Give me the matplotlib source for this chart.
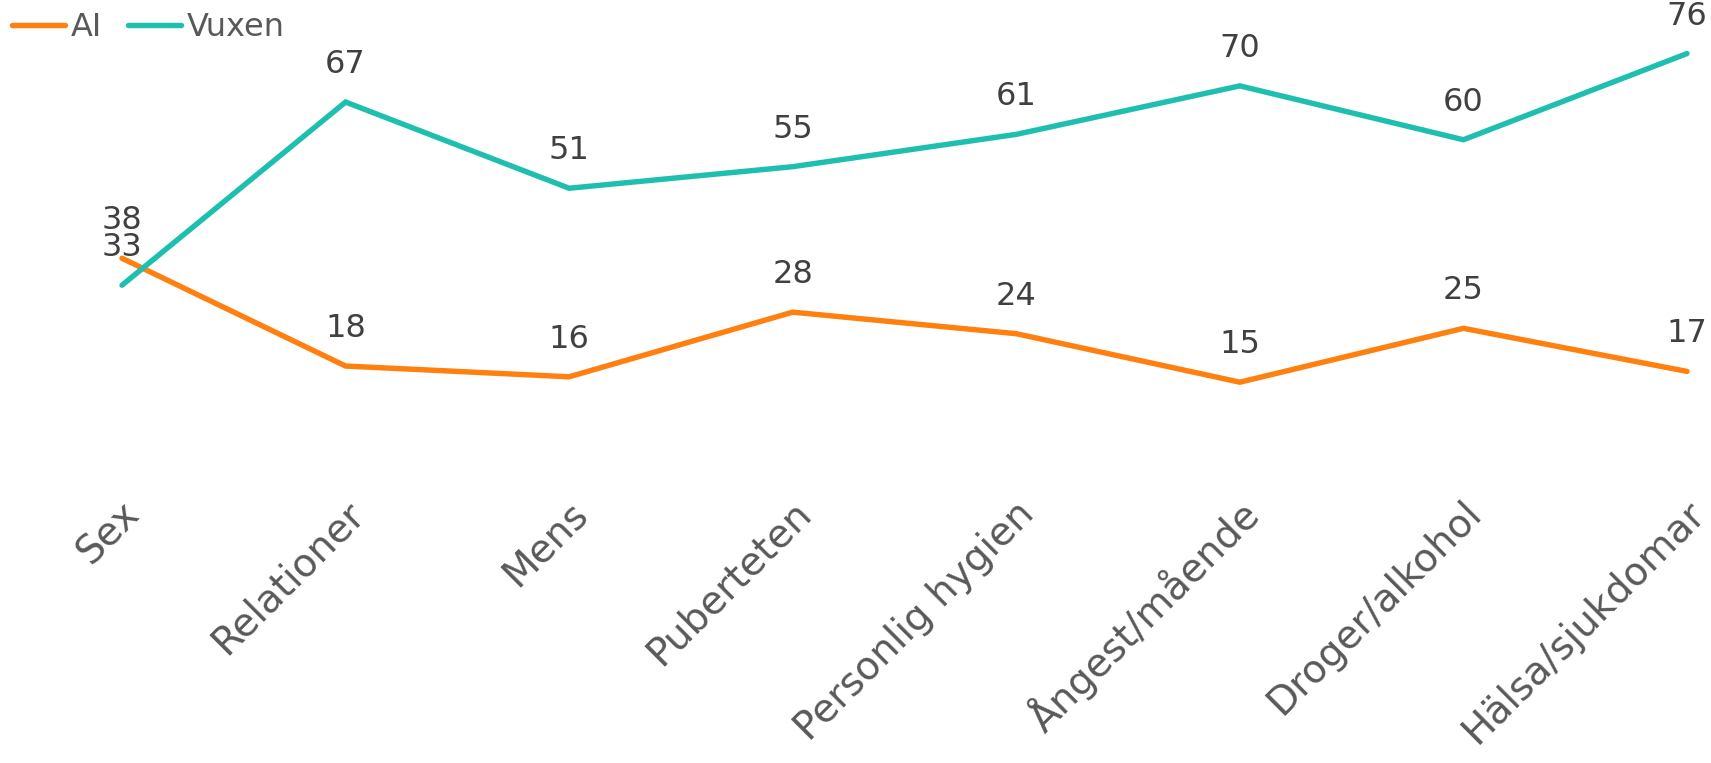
import matplotlib
matplotlib.use("Agg")
import matplotlib.pyplot as plt
from matplotlib.lines import Line2D
import matplotlib.transforms as mtransforms

categories = ["Sex", "Relationer", "Mens", "Puberteten", "Personlig hygien",
              "Ångest/mående", "Droger/alkohol", "Hälsa/sjukdomar"]
ai_values = [38, 18, 16, 28, 24, 15, 25, 17]
vuxen_values = [33, 67, 51, 55, 61, 70, 60, 76]
series_names = ["AI", "Vuxen"]

ORANGE = "#FF800E"
TEAL = "#1FBFB0"
LABEL_COLOR = "#404040"
TICK_COLOR = "#595959"
FONT = ["DejaVu Sans"]

W, H = 1711, 763
fig = plt.figure(figsize=(W / 100, H / 100), dpi=100)
plt.rcParams['font.family'] = FONT

left_px, right_px = 122, 1687
top_px, bottom_px = 32, 463
ax = fig.add_axes([left_px / W, (H - bottom_px) / H,
                   (right_px - left_px) / W, (bottom_px - top_px) / H])

x = list(range(len(categories)))
ax.plot(x, ai_values, color=ORANGE, lw=3.9, solid_capstyle='round',
        solid_joinstyle='miter', clip_on=False)
ax.plot(x, vuxen_values, color=TEAL, lw=3.9, solid_capstyle='round',
        solid_joinstyle='miter', clip_on=False)

for vals in (ai_values, vuxen_values):
    for xi, v in zip(x, vals):
        ax.annotate(str(v), (xi, v), xytext=(0, 27), textcoords='offset points',
                    ha='center', va='center', fontsize=23, color=LABEL_COLOR,
                    annotation_clip=False)

ax.set_xlim(0, len(categories) - 1)
ax.set_ylim(0, 80)
ax.set_yticks([])
ax.set_xticks(x)
ax.set_xticklabels(categories, rotation=45, ha='right', va='center',
                   rotation_mode='anchor', fontsize=28, color=TICK_COLOR)
ax.tick_params(axis='x', length=0, pad=32)
offset = mtransforms.ScaledTranslation(12 / 100, 0, fig.dpi_scale_trans)
for lbl in ax.get_xticklabels():
    lbl.set_transform(lbl.get_transform() + offset)
for s in ax.spines.values():
    s.set_visible(False)

handles = [Line2D([], [], color=ORANGE, lw=3.9, solid_capstyle='round'),
           Line2D([], [], color=TEAL, lw=3.9, solid_capstyle='round')]
leg = fig.legend(handles, series_names, loc='center left',
                 bbox_to_anchor=(12 / W, 1 - 28 / H), ncol=2, frameon=False,
                 fontsize=23, handlelength=1.65, handletextpad=0.2,
                 columnspacing=0.8, borderaxespad=0, borderpad=0)
for t in leg.get_texts():
    t.set_color(TICK_COLOR)

fig.savefig("out.png", dpi=100)
